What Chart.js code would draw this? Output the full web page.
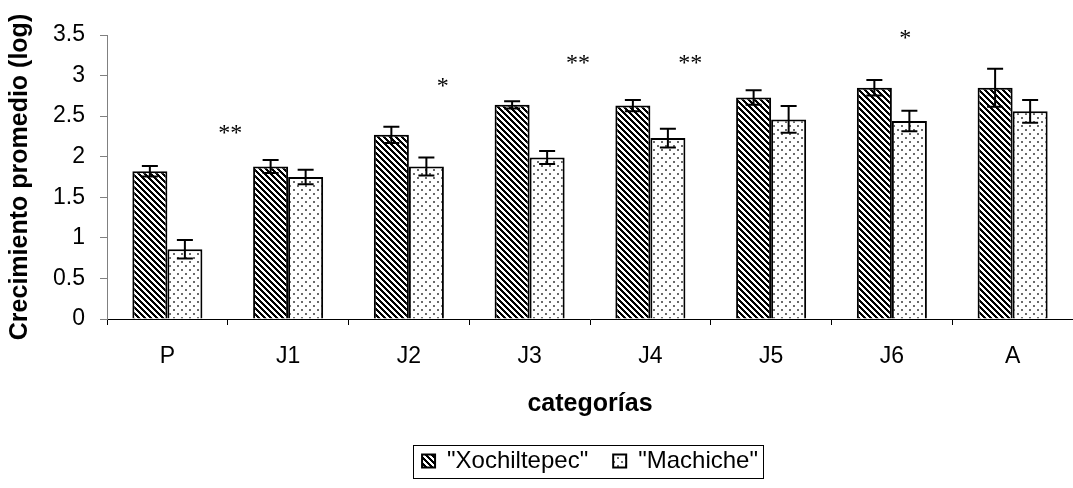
<!DOCTYPE html>
<html lang="es">
<head>
<meta charset="UTF-8">
<title>Crecimiento promedio por categoría</title>
<script src="https://cdn.jsdelivr.net/npm/chart.js"></script>
<style>
  html, body { margin: 0; padding: 0; background: #fff; }
  #wrap { width: 1073px; height: 488px; position: relative; }
</style>
</head>
<body>
<div id="wrap"><canvas id="growthChart"></canvas></div>
<script>
// categories and mean growth (log) per locality
const categories = ['P', 'J1', 'J2', 'J3', 'J4', 'J5', 'J6', 'A'];
const xochiltepec = [1.82, 1.88, 2.27, 2.64, 2.63, 2.73, 2.85, 2.85];
const xochiltepecErr = [0.065, 0.08, 0.10, 0.045, 0.07, 0.09, 0.095, 0.235];
const machiche = [0.86, 1.75, 1.88, 1.99, 2.23, 2.46, 2.44, 2.56];
const machicheErr = [0.115, 0.09, 0.11, 0.08, 0.115, 0.165, 0.125, 0.14];
const yTicks = [0, 0.5, 1, 1.5, 2, 2.5, 3, 3.5];

// significance marks: text, category index, shift within category, height (log units)
const sigText = ['**', '*', '**', '**', '*'];
const sigCategory = [0, 2, 3, 4, 6];
const sigShift = [0.52, 0.28, 0.4, 0.33, 0.11];
const sigLevel = [2.33, 2.91, 3.2, 3.2, 3.5];

const FONT = "'Liberation Sans', Arial, sans-serif";

// diagonal hatching (\\\) for the first series
function hatchPattern() {
  const c = document.createElement('canvas');
  c.width = 6; c.height = 6;
  const g = c.getContext('2d');
  const img = g.createImageData(6, 6);
  for (let y = 0; y < 6; y++) {
    for (let x = 0; x < 6; x++) {
      const on = ((x - y) % 6 + 6) % 6 < 3;
      const i = (y * 6 + x) * 4;
      const v = on ? 0 : 255;
      img.data[i] = v; img.data[i + 1] = v; img.data[i + 2] = v; img.data[i + 3] = 255;
    }
  }
  g.putImageData(img, 0, 0);
  return g.createPattern(c, 'repeat');
}

// sparse dot screen for the second series
function dotPattern() {
  const c = document.createElement('canvas');
  c.width = 8; c.height = 8;
  const g = c.getContext('2d');
  g.fillStyle = '#fff';
  g.fillRect(0, 0, 8, 8);
  g.fillStyle = '#6a6a6a';
  g.fillRect(1, 1, 2, 2);
  g.fillRect(5, 5, 2, 2);
  return g.createPattern(c, 'repeat');
}

const errorBars = {
  id: 'errorBars',
  afterDatasetsDraw(chart) {
    const ctx = chart.ctx;
    const y = chart.scales.y;
    const errs = [xochiltepecErr, machicheErr];
    ctx.save();
    ctx.strokeStyle = '#000';
    ctx.lineWidth = 2;
    chart.data.datasets.forEach((ds, d) => {
      chart.getDatasetMeta(d).data.forEach((bar, i) => {
        const hi = y.getPixelForValue(ds.data[i] + errs[d][i]);
        const lo = y.getPixelForValue(ds.data[i] - errs[d][i]);
        ctx.beginPath();
        ctx.moveTo(bar.x, hi); ctx.lineTo(bar.x, lo);
        ctx.moveTo(bar.x - 8, hi); ctx.lineTo(bar.x + 8, hi);
        ctx.moveTo(bar.x - 8, lo); ctx.lineTo(bar.x + 8, lo);
        ctx.stroke();
      });
    });
    ctx.restore();
  }
};

const sigMarks = {
  id: 'sigMarks',
  afterDraw(chart) {
    const ctx = chart.ctx;
    const x = chart.scales.x, y = chart.scales.y;
    const step = x.getPixelForValue(1) - x.getPixelForValue(0);
    ctx.save();
    ctx.fillStyle = '#000';
    ctx.font = "24px 'Liberation Serif', 'Times New Roman', serif";
    ctx.textAlign = 'center';
    ctx.textBaseline = 'middle';
    sigText.forEach((t, k) => {
      const px = x.getPixelForValue(sigCategory[k]) + sigShift[k] * step;
      ctx.fillText(t, px, y.getPixelForValue(sigLevel[k]) + 4);
    });
    ctx.restore();
  }
};

// thin frame around the legend items
const legendFrame = {
  id: 'legendFrame',
  afterDraw(chart) {
    const boxes = chart.legend.legendHitBoxes;
    if (!boxes || !boxes.length) return;
    const left = Math.min(...boxes.map(b => b.left)) - 9;
    const right = Math.max(...boxes.map(b => b.left + b.width)) + 5;
    const top = Math.min(...boxes.map(b => b.top)) - 4;
    const bottom = Math.max(...boxes.map(b => b.top + b.height)) + 5;
    const ctx = chart.ctx;
    ctx.save();
    ctx.strokeStyle = '#000';
    ctx.lineWidth = 1;
    ctx.strokeRect(Math.round(left) + 0.5, Math.round(top) + 0.5, Math.round(right - left), Math.round(bottom - top));
    ctx.restore();
  }
};

const ctx = document.getElementById('growthChart').getContext('2d');
new Chart(ctx, {
  type: 'bar',
  data: {
    labels: categories,
    datasets: [{
      label: '"Xochiltepec"',
      data: xochiltepec,
      backgroundColor: hatchPattern(),
      borderColor: '#000',
      borderWidth: 2,
      barPercentage: 1,
      categoryPercentage: 0.58
    }, {
      label: '"Machiche"',
      data: machiche,
      backgroundColor: dotPattern(),
      borderColor: '#000',
      borderWidth: 2,
      barPercentage: 1,
      categoryPercentage: 0.58
    }]
  },
  options: {
    responsive: true,
    maintainAspectRatio: false,
    animation: false,
    layout: { padding: { top: 35, right: 0, bottom: 5, left: 0 } },
    scales: {
      x: {
        grid: { display: true, offset: true, drawOnChartArea: false, tickLength: 6, color: '#000' },
        border: { color: '#000', width: 1 },
        ticks: { color: '#000', font: { family: FONT, size: 23 }, padding: 18, maxRotation: 0 },
        title: {
          display: true, text: 'categorías', color: '#000',
          font: { family: FONT, size: 25, weight: 'bold' },
          padding: { top: 0, bottom: 25 }
        },
        afterFit(scale) { scale.height = 125; }
      },
      y: {
        min: 0, max: 3.5,
        afterBuildTicks(scale) { scale.ticks = yTicks.map(v => ({ value: v })); },
        grid: { display: true, drawOnChartArea: false, tickLength: 7, color: '#808080' },
        border: { color: '#808080', width: 1 },
        ticks: { color: '#000', font: { family: FONT, size: 23 }, padding: 15, callback: v => String(v) },
        title: {
          display: true, text: 'Crecimiento promedio (log)', color: '#000',
          font: { family: FONT, size: 25, weight: 'bold' },
          padding: { top: 5, bottom: 0 }
        },
        afterFit(scale) { scale.width = 107; }
      }
    },
    plugins: {
      legend: {
        position: 'bottom',
        fullSize: false,
        labels: {
          color: '#000',
          font: { family: FONT, size: 24 },
          boxWidth: 13,
          boxHeight: 13,
          padding: 5,
          generateLabels(chart) {
            const items = Chart.defaults.plugins.legend.labels.generateLabels(chart);
            // extra room between the two entries
            items.forEach((it, i) => { if (i < items.length - 1) it.text += '   '; });
            return items;
          }
        }
      },
      tooltip: { enabled: false }
    }
  },
  plugins: [errorBars, sigMarks, legendFrame]
});
</script>
</body>
</html>
